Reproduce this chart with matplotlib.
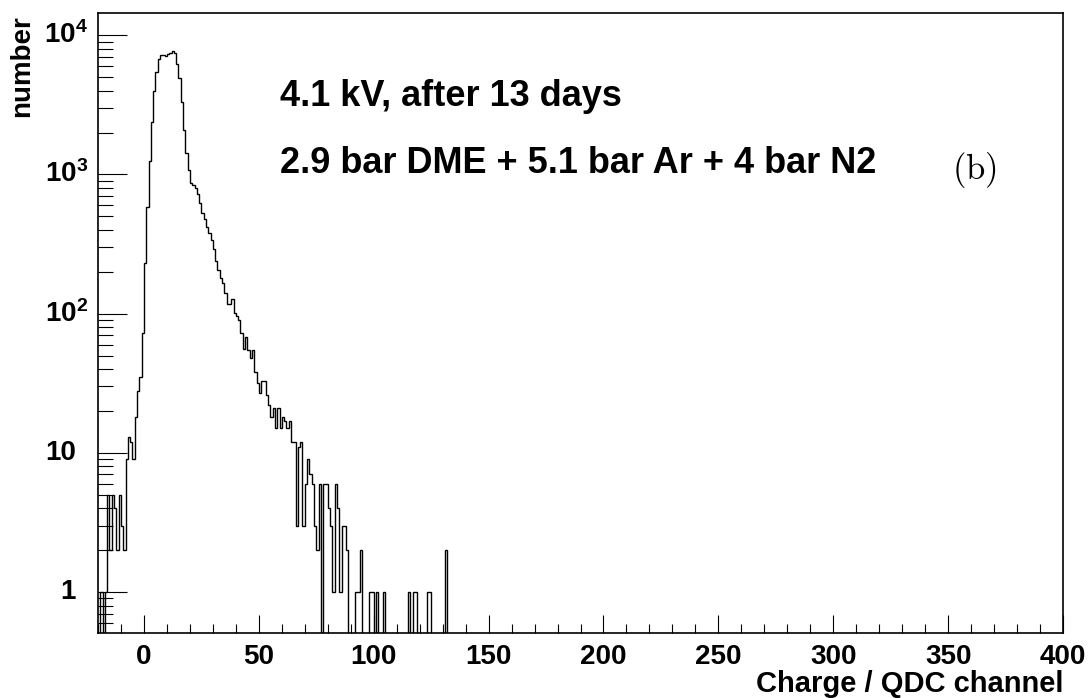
import numpy as np
import matplotlib
matplotlib.use("Agg")
import matplotlib.pyplot as plt
from matplotlib.ticker import FixedLocator, NullFormatter, MultipleLocator

# histogram: unit-wide bins starting at -20 (counts)
first_bin = -20
n_bins = 420
counts = [
    0, 1, 0, 1, 5, 2, 5, 4, 2, 5,                 # -20 .. -11
    3, 2, 9, 13, 12, 9, 18, 28, 35, 72,           # -10 .. -1
    230, 580, 1250, 2370, 4000, 5400, 6800, 7150, 7150, 7050,   # 0 .. 9
    7300, 7400, 7650, 7450, 6200, 4900, 3300, 2100, 1430, 1070, # 10 .. 19
    870, 840, 800, 720, 620, 530, 475, 420, 380, 340,           # 20 .. 29
    290, 240, 205, 180, 165, 140, 117, 117, 128, 101,           # 30 .. 39
    96, 90, 72, 56, 68, 55, 48, 55, 38, 32,                     # 40 .. 49
    27, 33, 33, 26, 22, 18, 21, 15, 21, 15,                     # 50 .. 59
    18, 17, 15, 17, 12, 12, 3, 11, 12, 3,                       # 60 .. 69
    6, 9, 7, 6, 3, 2, 6, 0, 6, 6,                               # 70 .. 79
    4, 3, 1, 6, 4, 1, 3, 3, 2, 0,                               # 80 .. 89
    0, 0, 1, 1, 2, 0, 0, 0, 1, 1,                               # 90 .. 99
    0, 1, 0, 0, 1, 0, 0, 0, 0, 0,                               # 100 .. 109
    0, 0, 0, 0, 0, 1, 0, 1, 1, 0,                               # 110 .. 119
    0, 0, 0, 1, 1, 0, 0, 0, 0, 0,                               # 120 .. 129
    0, 2,                                                       # 130 .. 131
]

x_ticks = [0, 50, 100, 150, 200, 250, 300, 350, 400]
y_ticks = [1, 10, 100, 1000, 10000]
y_labels = ["1", "10", r"$\mathbf{10^{2}}$", r"$\mathbf{10^{3}}$", r"$\mathbf{10^{4}}$"]

plt.rcParams["font.family"] = ["Liberation Sans", "DejaVu Sans"]
plt.rcParams["font.weight"] = "bold"
plt.rcParams["mathtext.fontset"] = "custom"
plt.rcParams["mathtext.rm"] = "Liberation Sans:bold"
plt.rcParams["mathtext.bf"] = "Liberation Sans:bold"
plt.rcParams["mathtext.it"] = "Liberation Sans:bold"


def main():
    edges = np.arange(first_bin, first_bin + n_bins + 1)
    full = np.zeros(n_bins)
    full[:len(counts)] = counts
    # empty bins drop to the bottom of the frame, like ROOT does on log axes
    shown = np.where(full > 0, full, 1e-3)

    fig = plt.figure(figsize=(10.92, 6.98), dpi=100)
    ax = fig.add_axes([98 / 1092, 1 - 633 / 698, 965 / 1092, 620 / 698])

    ax.stairs(shown, edges, baseline=1e-3, color="black", lw=1.0)
    ax.set_yscale("log")
    ax.set_xlim(-20, 400)
    ax.set_ylim(0.508, 14440)

    ax.xaxis.set_major_locator(FixedLocator(x_ticks))
    ax.xaxis.set_minor_locator(MultipleLocator(10))
    ax.yaxis.set_major_locator(FixedLocator(y_ticks))
    ax.yaxis.set_major_formatter(NullFormatter())
    minor = [m * 10.0 ** e for e in range(-1, 5) for m in range(2, 10)]
    ax.yaxis.set_minor_locator(FixedLocator(minor))
    ax.yaxis.set_minor_formatter(NullFormatter())

    ax.tick_params(which="both", direction="in", top=False, right=False, width=0.8)
    ax.tick_params(axis="x", which="major", length=13, labelsize=20, pad=8)
    ax.tick_params(axis="x", which="minor", length=6.5)
    ax.tick_params(axis="y", which="major", length=21)
    ax.tick_params(axis="y", which="minor", length=10.5)
    for s in ax.spines.values():
        s.set_linewidth(1.2)

    # y labels: ROOT keeps the mantissa aligned, the exponent hangs to the right
    ytr = ax.get_yaxis_transform()
    for val, lab in zip(y_ticks, y_labels):
        xr = -0.0104 if lab.startswith("$") else -0.0228
        ax.text(xr, val, lab, transform=ytr, ha="right", va="center",
                fontsize=20, fontweight="bold")

    ax.set_xlabel("Charge / QDC channel", fontsize=21, fontweight="bold")
    ax.xaxis.set_label_coords(1.0, -0.082)
    ax.xaxis.label.set_ha("right")
    ax.xaxis.label.set_va("center")
    ax.set_ylabel("number", fontsize=20, fontweight="bold")
    ax.yaxis.set_label_coords(-0.079, 0.997)
    ax.yaxis.label.set_ha("right")
    ax.yaxis.label.set_va("center")

    fig.text(280 / 1092, 1 - 106 / 698, "4.1 kV, after 13 days",
             fontsize=26, fontweight="bold", va="baseline")
    fig.text(280 / 1092, 1 - 173 / 698, "2.9 bar DME + 5.1 bar Ar + 4 bar N2",
             fontsize=26, fontweight="bold", va="baseline")
    fig.text(974 / 1092, 1 - 170 / 698, r"$\mathrm{(b)}$", math_fontfamily="cm",
             fontsize=25, fontweight="normal", ha="center", va="center")

    fig.savefig("out.png", dpi=100)


if __name__ == "__main__":
    main()
